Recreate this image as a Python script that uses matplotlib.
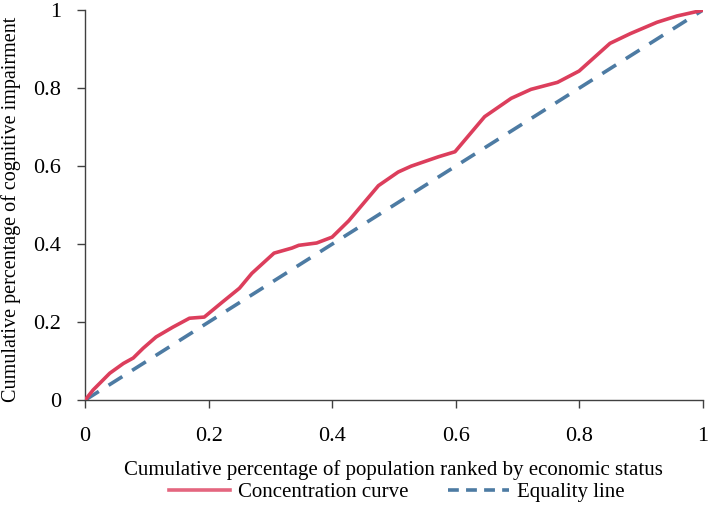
import matplotlib
matplotlib.use("Agg")
import matplotlib.pyplot as plt
from matplotlib.lines import Line2D

plt.rcParams['font.family'] = ['Liberation Serif', 'DejaVu Serif']

conc_x = [0, 0.013, 0.04, 0.062, 0.078, 0.094, 0.115, 0.142, 0.169, 0.193, 0.222, 0.25,
          0.27, 0.306, 0.335, 0.346, 0.375, 0.40, 0.427, 0.475, 0.507, 0.528, 0.572,
          0.599, 0.647, 0.69, 0.722, 0.765, 0.80, 0.85, 0.883, 0.926, 0.958, 1.0]
conc_y = [0, 0.026, 0.069, 0.094, 0.108, 0.133, 0.162, 0.187, 0.21, 0.213, 0.251, 0.287,
          0.325, 0.377, 0.39, 0.397, 0.403, 0.418, 0.46, 0.55, 0.585, 0.60, 0.624,
          0.637, 0.727, 0.774, 0.797, 0.815, 0.844, 0.915, 0.94, 0.969, 0.985, 1.0]
eq_x = [0, 1]
eq_y = [0, 1]
ticks = [0, 0.2, 0.4, 0.6, 0.8, 1]
tick_labels = ['0', '0.2', '0.4', '0.6', '0.8', '1']

fig = plt.figure(figsize=(7.09, 5.11), dpi=100)
ax = fig.add_axes([0.12, 0.217, 0.871, 0.763])

red = '#DC3E5C'
blue = '#4D7BA3'
ax.plot(conc_x, conc_y, color=red, lw=2.6, zorder=3)
ax.plot(eq_x, eq_y, color=blue, lw=2.6, ls=(0, (4.5, 3.2)), zorder=2)

ax.set_xlim(0, 1)
ax.set_ylim(0, 1)
ax.set_xticks(ticks)
ax.set_xticklabels(tick_labels)
ax.set_yticks(ticks)
ax.set_yticklabels(tick_labels)
for s in ['top', 'right']:
    ax.spines[s].set_visible(False)
for s in ['left', 'bottom']:
    ax.spines[s].set_color('#404040')
    ax.spines[s].set_linewidth(1.0)
ax.tick_params(direction='out', length=5.5, width=1, color='#404040', labelsize=16)
ax.tick_params(axis='x', pad=14)
ax.tick_params(axis='y', pad=12)
ax.set_xlabel('Cumulative percentage of population ranked by economic status', fontsize=15, labelpad=10)
ax.set_ylabel('Cumulative percentage of cognitive impairment', fontsize=14.5)
ax.yaxis.set_label_coords(-0.104, 0.49)

handles = [Line2D([], [], color='#E4667F', lw=2.6),
           Line2D([], [], color=blue, lw=2.6, ls=(0, (3, 2)))]
fig.legend(handles, ['Concentration curve', 'Equality line'], loc='center',
           bbox_to_anchor=(0.56, 0.036), ncol=2, frameon=False, fontsize=15,
           handlelength=2.9, columnspacing=1.9, handletextpad=0.4)

fig.savefig('out.png', dpi=100)
